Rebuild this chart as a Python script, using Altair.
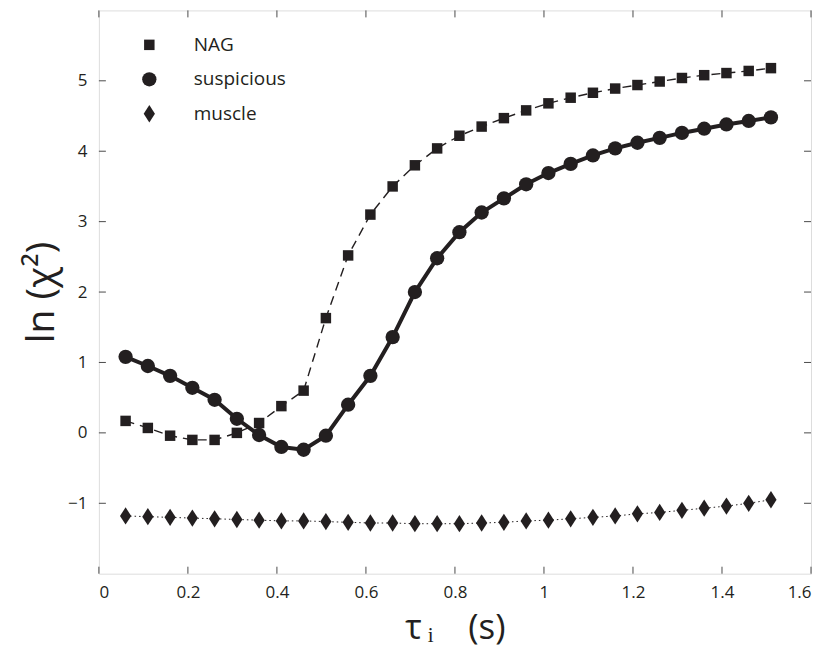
import altair as alt
import pandas as pd

tau = [0.06, 0.11, 0.16, 0.21, 0.26, 0.31, 0.36, 0.41, 0.46, 0.51,
       0.56, 0.61, 0.66, 0.71, 0.76, 0.81, 0.86, 0.91, 0.96, 1.01,
       1.06, 1.11, 1.16, 1.21, 1.26, 1.31, 1.36, 1.41, 1.46, 1.51]

nag = [0.17, 0.07, -0.04, -0.10, -0.10, 0.00, 0.14, 0.38, 0.60, 1.63,
       2.52, 3.10, 3.50, 3.80, 4.04, 4.22, 4.35, 4.47, 4.58, 4.68,
       4.76, 4.83, 4.89, 4.94, 4.99, 5.04, 5.08, 5.11, 5.14, 5.18]

suspicious = [1.08, 0.95, 0.81, 0.64, 0.47, 0.20, -0.03, -0.20, -0.24, -0.04,
              0.40, 0.81, 1.36, 2.00, 2.48, 2.85, 3.13, 3.33, 3.53, 3.69,
              3.82, 3.94, 4.04, 4.12, 4.19, 4.26, 4.32, 4.38, 4.43, 4.48]

muscle = [-1.18, -1.19, -1.20, -1.21, -1.22, -1.23, -1.24, -1.25, -1.25, -1.26,
          -1.27, -1.28, -1.28, -1.29, -1.29, -1.29, -1.28, -1.27, -1.25, -1.24,
          -1.22, -1.20, -1.18, -1.15, -1.13, -1.10, -1.07, -1.04, -1.00, -0.95]

series_names = ["NAG", "suspicious", "muscle"]
x_ticks = [0, 0.2, 0.4, 0.6, 0.8, 1.0, 1.2, 1.4, 1.6]
y_ticks = [-1, 0, 1, 2, 3, 4, 5]

INK = "#231f20"
FRAME = "#4a4a4a"
FONT = "Open Sans"

rows = []
for name, vals in zip(series_names, [nag, suspicious, muscle]):
    for t, v in zip(tau, vals):
        rows.append({"series": name, "tau": t, "lnchi": v})
df = pd.DataFrame(rows)

xs = alt.Scale(domain=[0, 1.6], nice=False, zero=False)
ys = alt.Scale(domain=[-2, 6], nice=False, zero=False)

x_enc = alt.X("tau:Q", scale=xs,
              axis=alt.Axis(values=x_ticks, format="~g", title="τ\u2009ᵢ\u2003(s)",
                            domain=False, ticks=False, tickSize=0, grid=False,
                            labelPadding=11, labelFont=FONT, labelFontSize=17,
                            labelColor=INK, titleFont=FONT, titleFontSize=35,
                            titleFontWeight="normal", titleColor=INK,
                            titleY=65, titleBaseline="alphabetic"))
y_enc = alt.Y("lnchi:Q", scale=ys,
              axis=alt.Axis(values=y_ticks, format="~g", title="ln (χ²)",
                            domain=False, ticks=False, tickSize=0, grid=False,
                            labelPadding=12, labelFont=FONT, labelFontSize=17,
                            labelColor=INK, titleFont=FONT, titleFontSize=39,
                            titleFontWeight="normal", titleColor=INK,
                            titlePadding=6))

base = alt.Chart(df)

line_nag = base.transform_filter(alt.datum.series == "NAG").mark_line(
    color=INK, strokeWidth=1.4, strokeDash=[9, 6]).encode(x=x_enc, y=y_enc)
line_sus = base.transform_filter(alt.datum.series == "suspicious").mark_line(
    color=INK, strokeWidth=4).encode(x=x_enc, y=y_enc)
line_mus = base.transform_filter(alt.datum.series == "muscle").mark_line(
    color=INK, strokeWidth=1, strokeDash=[1.5, 3]).encode(x=x_enc, y=y_enc)

diamond = "M0,-1L0.65,0L0,1L-0.65,0Z"
legend = alt.Legend(orient="none", legendX=41, legendY=25,
                    title=None, labelFont=FONT,
                    labelFontSize=19, labelColor=INK,
                    symbolFillColor=INK, symbolStrokeWidth=0,
                    rowPadding=14.5, labelOffset=35)
points = base.mark_point(filled=True, opacity=1, color=INK, strokeWidth=0).encode(
    x=x_enc, y=y_enc,
    shape=alt.Shape("series:N",
                    scale=alt.Scale(domain=series_names,
                                    range=["square", "circle", diamond]),
                    legend=legend),
    size=alt.Size("series:N",
                  scale=alt.Scale(domain=series_names, range=[110, 300, 540]),
                  legend=legend),
)

xt = pd.DataFrame({"v": x_ticks})
yt = pd.DataFrame({"v": y_ticks})

tick_bottom = alt.Chart(xt).mark_rule(color=FRAME, strokeWidth=1, y2Offset=-7).encode(
    x=alt.X("v:Q", scale=xs), y=alt.datum(-2, scale=ys), y2=alt.datum(-2))
tick_top = alt.Chart(xt).mark_rule(color=FRAME, strokeWidth=1, y2Offset=7).encode(
    x=alt.X("v:Q", scale=xs), y=alt.datum(6, scale=ys), y2=alt.datum(6))
tick_left = alt.Chart(yt).mark_rule(color=FRAME, strokeWidth=1, x2Offset=7).encode(
    y=alt.Y("v:Q", scale=ys), x=alt.datum(0, scale=xs), x2=alt.datum(0))
tick_right = alt.Chart(yt).mark_rule(color=FRAME, strokeWidth=1, x2Offset=-7).encode(
    y=alt.Y("v:Q", scale=ys), x=alt.datum(1.6, scale=xs), x2=alt.datum(1.6))

chart = alt.layer(
    line_nag, line_sus, line_mus, points,
    tick_bottom, tick_top, tick_left, tick_right,
).properties(
    width=713, height=564,
    autosize=alt.AutoSizeParams(type="none"),
    padding={"left": 91, "top": 2, "right": 10, "bottom": 80},
).configure_view(
    stroke=FRAME, strokeWidth=1.5
).configure(background="white")

chart.save("out.html", embed_options={"renderer": "svg", "actions": False})
